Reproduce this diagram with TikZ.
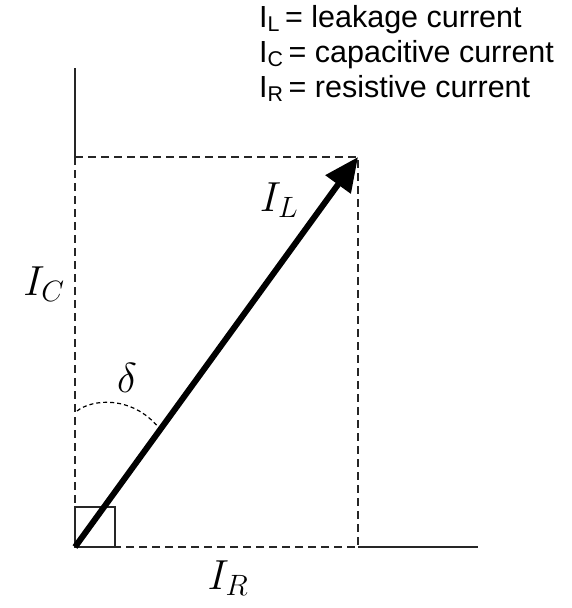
\RequirePackage{fix-cm}
\documentclass[tikz,border=0pt]{standalone}
\usepackage{fontspec}
\newfontfamily\arialfont{Liberation Sans}
\usetikzlibrary{arrows.meta}
\begin{document}
\begin{tikzpicture}[x=1pt,y=-1pt,
  axisline/.style={line width=1.6pt,black!85},
  dashline/.style={line width=1.8pt,dash pattern=on 8pt off 5pt,black!85},
  mathlabel/.style={font=\fontsize{42}{44}\selectfont,inner sep=0pt},
  legend/.style={font=\arialfont\fontsize{30.5}{33}\selectfont,anchor=base west,inner sep=0pt}]
\useasboundingbox (0,0) rectangle (571,608);
\coordinate (O) at (75,547);
\coordinate (P) at (358,157);
\coordinate (C) at (75,157);
\coordinate (R) at (358,547);
\coordinate (T) at (75,68);
\coordinate (E) at (478,547);
\coordinate (S1) at (115,547);
\coordinate (S2) at (115,507);
\coordinate (S3) at (75,507);
\coordinate (A1) at (77,411);
\coordinate (A2) at (159,428);
% axes
\draw[axisline] (T) -- (C);
\draw[axisline] (R) -- (E);
% dashed rectangle
\draw[dashline] (C) -- (P) -- (R) -- (S1);
\draw[dashline] (C) -- (S3);
% right-angle square
\draw[axisline] (S3) -- (S2) -- (S1) -- (O) -- cycle;
% delta arc
\draw[line width=1.2pt,dash pattern=on 4pt off 3pt] (A1) .. controls (92,399) and (132,395) .. (A2);
% vector
\draw[line width=6pt,-{Triangle[length=34pt,width=30pt]}] (O) -- (P);
% labels
\node[mathlabel] (IL) at (279,200) {$I_L$};
\node[mathlabel] (IC) at (44,284) {$I_C$};
\node[mathlabel] (IR) at (228,578) {$I_R$};
\node[mathlabel] (d) at (127,378) {$\delta$};
% legend
\node[legend] (l1) at (259,27) {I\textsubscript{L}\,= leakage current};
\node[legend] (l2) at (259,62) {I\textsubscript{C}\,= capacitive current};
\node[legend] (l3) at (259,97) {I\textsubscript{R}\,= resistive current};
\end{tikzpicture}
\end{document}
